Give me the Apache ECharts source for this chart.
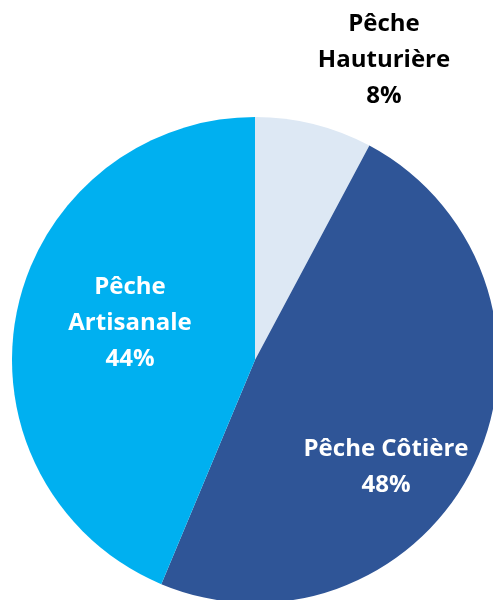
<!DOCTYPE html>
<html><head><meta charset="utf-8">
<script src="https://cdn.jsdelivr.net/npm/echarts@6/dist/echarts.min.js"></script>
<style>html,body{margin:0;padding:0;background:#fff;}#c{width:493px;height:600px;}</style>
</head><body><div id="c"></div>
<script>
const categories = ['Pêche Hauturière', 'Pêche Côtière', 'Pêche Artisanale'];
const labelTexts = ['Pêche\nHauturière', 'Pêche Côtière', 'Pêche\nArtisanale'];
const values = [7.8, 48.5, 43.7];
const percentLabels = ['8%', '48%', '44%'];
const colors = ['#dde8f4', '#2f5597', '#00b0f0'];
const labelColors = ['#000000', '#ffffff', '#ffffff'];
const labelPos = [[384, 60], [386, 467], [130, 323]];

const chart = echarts.init(document.getElementById('c'), null, {renderer: 'canvas'});
chart.setOption({
  animation: false,
  series: [{
    type: 'pie',
    center: [255, 360],
    radius: 243,
    startAngle: 90,
    clockwise: true,
    avoidLabelOverlap: false,
    labelLine: {show: false},
    data: categories.map((c, i) => ({
      name: c, value: values[i],
      itemStyle: {color: colors[i]},
      label: {
        show: true,
        formatter: labelTexts[i] + '\n' + percentLabels[i],
        color: labelColors[i]
      }
    })),
    label: {
      position: 'inside',
      fontFamily: 'Open Sans',
      fontWeight: 'bold',
      fontSize: 24,
      lineHeight: 36,
      align: 'center'
    },
    labelLayout: function (p) {
      const pos = labelPos[p.dataIndex];
      return {x: pos[0], y: pos[1], align: 'center', verticalAlign: 'middle'};
    }
  }]
});
</script></body></html>
